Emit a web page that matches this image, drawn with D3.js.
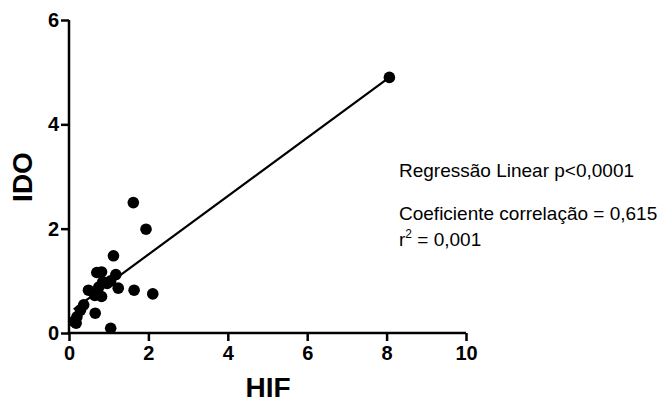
<!DOCTYPE html>
<html>
<head>
<meta charset="utf-8">
<script src="https://cdn.jsdelivr.net/npm/d3@7"></script>
<style>
  html, body { margin: 0; padding: 0; background: #fff; }
  svg { display: block; }
</style>
</head>
<body>
<svg id="chart" width="665" height="402"></svg>
<script>
// Data
const hif = [8.07, 1.62, 1.94, 1.12, 1.18, 0.70, 0.82, 0.49, 0.85, 0.96, 1.24, 1.64, 2.11, 0.65, 0.82, 0.66, 1.05, 0.37, 0.29, 0.20, 0.12, 0.18, 0.75, 1.05];
const ido = [4.90, 2.50, 1.99, 1.48, 1.12, 1.16, 1.17, 0.82, 0.98, 0.95, 0.86, 0.82, 0.75, 0.72, 0.70, 0.38, 0.09, 0.54, 0.44, 0.31, 0.22, 0.19, 0.88, 1.00];
const xTicks = [0, 2, 4, 6, 8, 10];
const yTicks = [0, 2, 4, 6];
const fitSlope = 0.559;
const fitIntercept = 0.387;
const annotLine1 = "Regressão Linear p<0,0001";
const annotLine2 = "Coeficiente correlação = 0,615";
const annotR2 = "= 0,001";
const xTitle = "HIF";
const yTitle = "IDO";

const svg = d3.select("#chart");
const FONT = "Liberation Sans, Arial, sans-serif";

const x = d3.scaleLinear().domain([0, 10]).range([69, 466]);
const y = d3.scaleLinear().domain([0, 6]).range([333, 20]);

function styleAxis(g) {
  g.attr("font-family", FONT).attr("font-size", 20).attr("font-weight", "bold");
  g.select(".domain").attr("stroke", "#000").attr("stroke-width", 2.5);
  g.selectAll(".tick line").attr("stroke", "#000").attr("stroke-width", 2.5);
  g.selectAll(".tick text").attr("fill", "#000")
    .attr("font-family", FONT).attr("font-weight", "bold").attr("font-size", 20);
}

const xAxis = svg.append("g").attr("transform", "translate(0," + y(0) + ")");
xAxis.call(d3.axisBottom(x).tickValues(xTicks).tickFormat(d3.format("d"))
  .tickSize(8).tickPadding(5).tickSizeOuter(0));
styleAxis(xAxis);
xAxis.select(".domain").attr("d", "M" + (x(0) - 1.25) + ",0H" + x(10));

const yAxis = svg.append("g").attr("transform", "translate(" + x(0) + ",0)");
yAxis.call(d3.axisLeft(y).tickValues(yTicks).tickFormat(d3.format("d"))
  .tickSize(8).tickPadding(2).tickSizeOuter(0));
styleAxis(yAxis);
yAxis.select(".domain").attr("d", "M0," + (y(0) + 1.25) + "V" + y(6));

// Regression line
const xMin = d3.min(hif), xMax = d3.max(hif);
svg.append("line")
  .attr("x1", x(xMin)).attr("y1", y(fitIntercept + fitSlope * xMin))
  .attr("x2", x(xMax)).attr("y2", y(fitIntercept + fitSlope * xMax))
  .attr("stroke", "#000").attr("stroke-width", 2.2);

// Points
svg.append("g").selectAll("circle")
  .data(hif.map((d, i) => [d, ido[i]]))
  .join("circle")
  .attr("cx", d => x(d[0])).attr("cy", d => y(d[1]))
  .attr("r", 5.8).attr("fill", "#000");

// Axis titles
svg.append("text").attr("x", 268).attr("y", 397)
  .attr("text-anchor", "middle")
  .attr("font-family", FONT).attr("font-weight", "bold").attr("font-size", 28)
  .text(xTitle);
svg.append("text").attr("transform", "translate(32,177) rotate(-90)")
  .attr("text-anchor", "middle")
  .attr("font-family", FONT).attr("font-weight", "bold").attr("font-size", 28)
  .text(yTitle);

// Annotations
function annText(yy) {
  return svg.append("text").attr("x", 399).attr("y", yy)
    .attr("font-family", FONT).attr("font-size", 19).attr("fill", "#000");
}
annText(177).text(annotLine1);
annText(220).text(annotLine2);
const r2 = annText(246);
r2.append("tspan").text("r");
r2.append("tspan").attr("dy", -8).attr("font-size", 12).text("2");
r2.append("tspan").attr("dy", 8).text(" " + annotR2);
</script>
</body>
</html>
